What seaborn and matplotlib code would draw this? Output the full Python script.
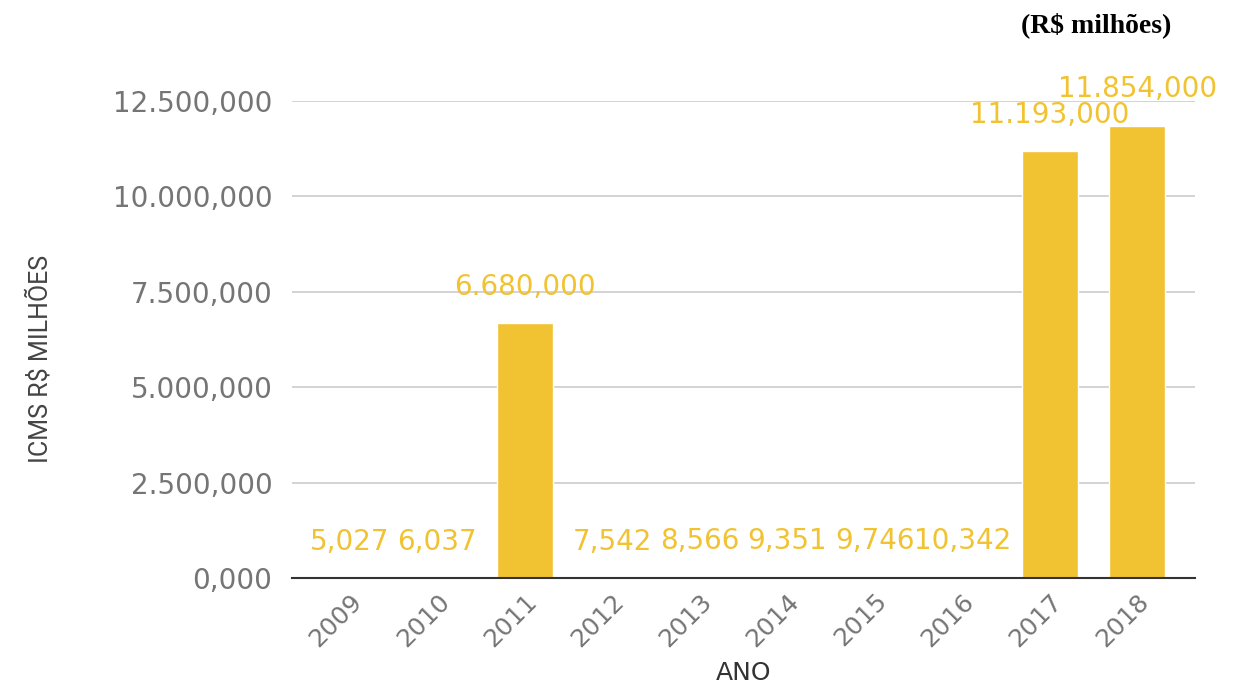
import matplotlib
matplotlib.use("Agg")
import matplotlib.pyplot as plt
import seaborn as sns

# ICMS by year (R$ milhões)
years = ["2009", "2010", "2011", "2012", "2013", "2014", "2015", "2016", "2017", "2018"]
icms = [5.027, 6.037, 6680, 7.542, 8.566, 9.351, 9.746, 10.342, 11193, 11854]
yticks = [0, 2500, 5000, 7500, 10000, 12500]

yellow = "#F1C232"
grey = "#757575"


def br_fmt(v):
    # 11854 -> 11.854,000
    s = f"{v:,.3f}"
    return s.replace(",", "X").replace(".", ",").replace("X", ".")


sns.set_theme(style="white")
plt.rcParams["font.family"] = ["DejaVu Sans"]

fig = plt.figure(figsize=(12.36, 6.91), dpi=100)
ax = fig.add_axes([0.2362, 0.1635, 0.7306, 0.6903])

sns.barplot(x=years, y=icms, color=yellow, saturation=1, width=0.64, ax=ax)

ax.bar_label(ax.containers[0], labels=[br_fmt(v) for v in icms],
             padding=16, color=yellow, fontsize=20, clip_on=False)

ax.set_ylim(0, 12500)
ax.set_xlim(-0.66, 9.66)
ax.set_yticks(yticks)
ax.set_yticklabels([br_fmt(t) for t in yticks])
ax.yaxis.grid(True, color="#cccccc", linewidth=1.2)
ax.set_axisbelow(True)

for side in ["top", "right", "left"]:
    ax.spines[side].set_visible(False)
ax.spines["bottom"].set_color("#333333")
ax.spines["bottom"].set_linewidth(1.5)

ax.tick_params(axis="y", length=0, pad=14, labelsize=20, labelcolor=grey)
ax.tick_params(axis="x", length=0, pad=8, labelsize=18, labelcolor=grey)
for lbl in ax.get_xticklabels():
    lbl.set_rotation(45)
    lbl.set_ha("right")
    lbl.set_rotation_mode("anchor")

ax.set_xlabel("ANO", fontsize=18, color="#333333")
ax.xaxis.set_label_coords(0.5, -0.175)
ax.set_ylabel("ICMS R$ MILHÕES", fontsize=18, color="#444444",
              family=["Liberation Sans Narrow", "Roboto", "DejaVu Sans"])
ax.yaxis.set_label_coords(-0.265, 0.46)

fig.text(0.887, 0.963, "(R$ milhões)", ha="center", va="center",
         fontsize=20, fontweight="bold", family=["Liberation Serif", "DejaVu Serif"],
         color="black")

fig.savefig("out.png", dpi=100, facecolor="white")
